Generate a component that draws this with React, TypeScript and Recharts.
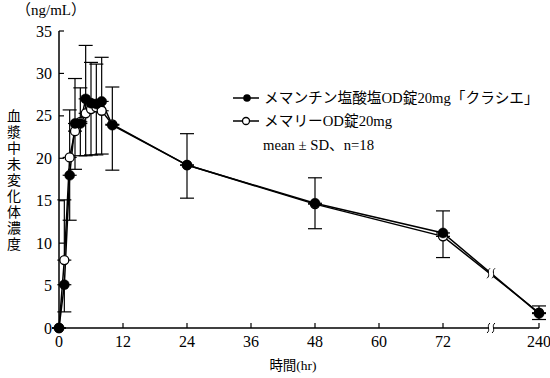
import React from 'react';
import { LineChart, Line, XAxis, YAxis, ErrorBar, ReferenceDot, Customized } from 'recharts';

const hours = [0, 1, 2, 3, 4, 5, 6, 7, 8, 10, 24, 48, 72, 240];
const kracieMean = [0, 5.1, 18.0, 24.1, 24.1, 27.0, 26.5, 26.4, 26.7, 23.9, 19.2, 14.7, 11.2, 1.7];
const kracieSD = [0, 3.2, 5.3, 5.4, 3.8, 6.7, 6.1, 6.0, 6.2, 5.3, 3.9, 3.0, 2.9, 0.7];
const memaryMean = [0, 8.0, 20.1, 23.2, 24.3, 25.3, 25.8, 26.0, 25.6, 24.0, 19.2, 14.6, 10.8, 1.8];
const memarySD = [0, 7.1, 5.6, 6.2, 4.0, 8.0, 5.5, 5.1, 6.3, 4.4, 3.7, 3.1, 3.0, 0.8];
const xTickLabels = [0, 12, 24, 36, 48, 60, 72, 240];
const yTicks = [0, 5, 10, 15, 20, 25, 30, 35];

const kracieName = 'メマンチン塩酸塩OD錠20mg「クラシエ」';
const memaryName = 'メマリーOD錠20mg';
const noteText = 'mean ± SD、n=18';
const yLabel = '血漿中未変化体濃度';
const unitLabel = '（ng/mL）';
const xLabel = '時間(hr)';

// broken axis: hours after 72 are compressed so that 240 sits at 90
const BREAK_START = 72;
const LAST_HOUR = 240;
const LAST_POS = 90;
const toAxis = (h: number) =>
  h <= BREAK_START ? h : BREAK_START + ((h - BREAK_START) * (LAST_POS - BREAK_START)) / (LAST_HOUR - BREAK_START);
const breakPos = (BREAK_START + LAST_POS) / 2;

const data = hours.map((h, i) => ({
  t: toAxis(h),
  kracie: kracieMean[i],
  memary: memaryMean[i],
  kErr: [kracieSD[i], 0],
  mErr: [0, memarySD[i]],
}));

const FONT = '"Liberation Serif", "Noto Sans CJK JP", serif';
const JFONT = '"Liberation Serif", "Noto Sans CJK JP", serif';

const labelFor = (v: number) => {
  const idx = xTickLabels.findIndex((h) => Math.abs(toAxis(h) - v) < 1e-6);
  return idx >= 0 ? String(xTickLabels[idx]) : String(v);
};

const XTick = (props: any) => {
  const { x, y, payload } = props;
  return (
    <g>
      <line x1={x} y1={y} x2={x} y2={y - 5} stroke="#000" strokeWidth={1.2} />
      <text x={x} y={y + 19} textAnchor="middle" fontSize={16} fontFamily={FONT} fill="#000">
        {labelFor(payload.value)}
      </text>
    </g>
  );
};

const YTick = (props: any) => {
  const { x, y, payload } = props;
  return (
    <g>
      <line x1={x} y1={y} x2={x + 5} y2={y} stroke="#000" strokeWidth={1.2} />
      <text x={x - 7} y={y + 5.5} textAnchor="end" fontSize={16} fontFamily={FONT} fill="#000">
        {payload.value}
      </text>
    </g>
  );
};

const BreakMark = (props: any) => {
  const { cx, cy } = props;
  const s = (x0: number) =>
    `M${x0 - 1.5},${cy + 5} C${x0 + 2.5},${cy + 2} ${x0 - 2.5},${cy - 2} ${x0 + 1.5},${cy - 5}`;
  return (
    <g>
      <rect x={cx - 2.5} y={cy - 4} width={5} height={8} fill="#fff" />
      <path d={s(cx - 2.5)} stroke="#000" strokeWidth={1} fill="none" />
      <path d={s(cx + 2.5)} stroke="#000" strokeWidth={1} fill="none" />
    </g>
  );
};

const Decor = () => (
  <g>
    <text x={16} y={15} fontSize={15} fontFamily={JFONT} fill="#000">{unitLabel}</text>
    <text fontSize={14} fontFamily={JFONT} fill="#000">
      {yLabel.split('').map((c, i) => (
        <tspan key={i} x={7} y={121 + i * 16}>{c}</tspan>
      ))}
    </text>
    <text x={293} y={370} textAnchor="middle" fontSize={13.5} fontFamily={JFONT} fill="#000">{xLabel}</text>
    {/* legend */}
    <line x1={233} y1={98} x2={259} y2={98} stroke="#000" strokeWidth={1.5} />
    <circle cx={247} cy={98} r={3.8} fill="#000" />
    <text x={264} y={103} fontSize={14.7} fontFamily={JFONT} fill="#000">{kracieName}</text>
    <line x1={233} y1={121} x2={259} y2={121} stroke="#000" strokeWidth={1.5} />
    <circle cx={246} cy={121} r={3.5} fill="#fff" stroke="#000" strokeWidth={1.3} />
    <text x={264} y={126} fontSize={14.7} fontFamily={JFONT} fill="#000">{memaryName}</text>
    <text x={263} y={150} fontSize={14.7} fontFamily={JFONT} fill="#000">{noteText}</text>
  </g>
);

export default function App() {
  return (
    <div style={{ position: 'absolute', left: 0, top: 0, width: 550, height: 378, background: '#fff' }}>
      <LineChart width={550} height={378} data={data} margin={{ top: 31, right: 11, bottom: 20, left: 19 }}>
        <XAxis
          dataKey="t"
          type="number"
          domain={[0, LAST_POS]}
          ticks={xTickLabels.map(toAxis)}
          interval={0}
          tickSize={0}
          tickMargin={0}
          tick={<XTick />}
          axisLine={{ stroke: '#000', strokeWidth: 1.5 }}
          height={30}
        />
        <YAxis
          type="number"
          domain={[0, 35]}
          ticks={yTicks}
          interval={0}
          tickSize={0}
          tickMargin={0}
          tick={<YTick />}
          axisLine={{ stroke: '#000', strokeWidth: 1.5 }}
          width={40}
        />
        <Line
          dataKey="memary"
          stroke="#000"
          strokeWidth={1.5}
          isAnimationActive={false}
          dot={{ r: 4.5, fill: '#fff', stroke: '#000', strokeWidth: 1.3 }}
          activeDot={false}
        >
          <ErrorBar dataKey="mErr" width={7} stroke="#000" strokeWidth={1.2} direction="y" isAnimationActive={false} />
        </Line>
        <Line
          dataKey="kracie"
          stroke="#000"
          strokeWidth={1.5}
          isAnimationActive={false}
          dot={{ r: 5, fill: '#000', stroke: '#000', strokeWidth: 0.5 }}
          activeDot={false}
        >
          <ErrorBar dataKey="kErr" width={7} stroke="#000" strokeWidth={1.2} direction="y" isAnimationActive={false} />
        </Line>
        <ReferenceDot x={breakPos} y={0} ifOverflow="visible" shape={<BreakMark />} />
        <ReferenceDot
          x={breakPos}
          y={(kracieMean[12] + kracieMean[13]) / 2}
          ifOverflow="visible"
          shape={<BreakMark />}
        />
        <Customized component={Decor} />
      </LineChart>
    </div>
  );
}
